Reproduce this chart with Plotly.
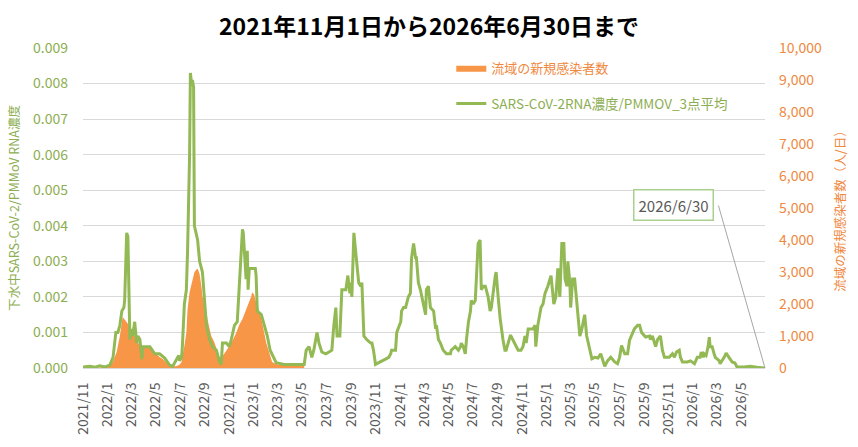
import plotly.graph_objects as go

# ---------------- data ----------------
rna_dates = [
    "2021-11-01", "2021-11-18", "2021-12-01", "2021-12-13", "2021-12-26", "2022-01-07", "2022-01-15",
    "2022-01-22", "2022-01-27", "2022-02-01", "2022-02-06", "2022-02-11", "2022-02-13", "2022-02-18",
    "2022-02-21", "2022-02-23", "2022-02-26", "2022-03-03", "2022-03-05", "2022-03-10", "2022-03-15",
    "2022-03-18", "2022-03-23", "2022-03-28", "2022-03-30", "2022-04-17", "2022-04-29", "2022-05-11",
    "2022-05-24", "2022-06-05", "2022-06-13", "2022-06-23", "2022-06-28", "2022-06-30", "2022-07-05",
    "2022-07-07", "2022-07-12", "2022-07-17", "2022-07-20", "2022-07-25", "2022-07-27", "2022-07-30",
    "2022-08-01", "2022-08-04", "2022-08-06", "2022-08-14", "2022-08-19", "2022-08-26", "2022-08-31",
    "2022-09-05", "2022-09-13", "2022-09-20", "2022-09-30", "2022-10-07", "2022-10-12", "2022-10-15",
    "2022-10-25", "2022-11-01", "2022-11-06", "2022-11-14", "2022-11-21", "2022-11-29", "2022-12-04",
    "2022-12-06", "2022-12-11", "2022-12-13", "2022-12-16", "2022-12-18", "2022-12-21", "2022-12-26",
    "2023-01-05", "2023-01-07", "2023-01-10", "2023-01-20", "2023-01-27", "2023-02-04", "2023-02-11",
    "2023-02-19", "2023-02-26", "2023-03-18", "2023-04-12", "2023-04-24", "2023-05-07", "2023-05-12",
    "2023-05-19", "2023-05-26", "2023-05-31", "2023-06-08", "2023-06-13", "2023-06-20", "2023-06-30",
    "2023-07-08", "2023-07-15", "2023-07-20", "2023-07-25", "2023-07-28", "2023-08-04", "2023-08-09",
    "2023-08-19", "2023-08-24", "2023-08-29", "2023-08-31", "2023-09-03", "2023-09-08", "2023-09-13",
    "2023-09-20", "2023-09-25", "2023-09-28", "2023-10-03", "2023-10-10", "2023-10-20", "2023-10-23",
    "2023-10-27", "2023-11-01", "2023-11-09", "2023-11-16", "2023-11-26", "2023-12-04", "2023-12-09",
    "2023-12-11", "2023-12-21", "2023-12-24", "2024-01-03", "2024-01-05", "2024-01-10", "2024-01-15",
    "2024-01-17", "2024-01-22", "2024-01-27", "2024-01-30", "2024-02-04", "2024-02-09", "2024-02-11",
    "2024-02-16", "2024-02-21", "2024-02-29", "2024-03-05", "2024-03-07", "2024-03-12", "2024-03-17",
    "2024-03-25", "2024-03-30", "2024-04-01", "2024-04-06", "2024-04-11", "2024-04-18", "2024-04-26",
    "2024-05-06", "2024-05-08", "2024-05-18", "2024-05-26", "2024-05-31", "2024-06-02", "2024-06-07",
    "2024-06-12", "2024-06-15", "2024-06-20", "2024-06-25", "2024-06-27", "2024-07-02", "2024-07-07",
    "2024-07-14", "2024-07-19", "2024-07-22", "2024-07-27", "2024-08-01", "2024-08-03", "2024-08-08",
    "2024-08-13", "2024-08-16", "2024-08-26", "2024-08-28", "2024-09-02", "2024-09-07", "2024-09-14",
    "2024-09-19", "2024-09-22", "2024-09-27", "2024-10-02", "2024-10-04", "2024-10-09", "2024-10-14",
    "2024-10-22", "2024-10-29", "2024-11-03", "2024-11-08", "2024-11-11", "2024-11-16", "2024-11-23",
    "2024-11-28", "2024-12-03", "2024-12-05", "2024-12-10", "2024-12-18", "2024-12-23", "2024-12-28",
    "2025-01-04", "2025-01-12", "2025-01-19", "2025-01-24", "2025-01-29", "2025-02-03", "2025-02-08",
    "2025-02-13", "2025-02-16", "2025-02-21", "2025-02-23", "2025-02-28", "2025-03-02", "2025-03-07",
    "2025-03-12", "2025-03-17", "2025-03-25", "2025-03-30", "2025-04-06", "2025-04-11", "2025-04-19",
    "2025-04-24", "2025-05-01", "2025-05-09", "2025-05-16", "2025-05-21", "2025-05-26", "2025-06-02",
    "2025-06-10", "2025-06-20", "2025-06-27", "2025-07-02", "2025-07-07", "2025-07-15", "2025-07-22",
    "2025-07-27", "2025-08-01", "2025-08-08", "2025-08-16", "2025-08-21", "2025-08-26", "2025-09-05",
    "2025-09-15", "2025-09-17", "2025-09-22", "2025-09-27", "2025-09-30", "2025-10-05", "2025-10-12",
    "2025-10-17", "2025-10-22", "2025-11-03", "2025-11-11", "2025-11-16", "2025-11-21", "2025-11-28",
    "2025-12-01", "2025-12-06", "2025-12-18", "2025-12-26", "2026-01-05", "2026-01-12", "2026-01-19",
    "2026-01-22", "2026-01-27", "2026-01-29", "2026-02-03", "2026-02-08", "2026-02-11", "2026-02-13",
    "2026-02-18", "2026-02-23", "2026-02-26", "2026-03-08", "2026-03-10", "2026-03-20", "2026-03-25",
    "2026-04-01", "2026-04-09", "2026-04-16", "2026-04-21", "2026-05-09", "2026-05-24", "2026-06-10",
    "2026-06-30",
]
rna_values = [
    0.00003, 0.00005, 0.00002, 0.00006, 0.00003, 0.00008, 0.0003,
    0.0010, 0.0010, 0.0012, 0.0016, 0.0017, 0.0019, 0.0038,
    0.0037, 0.0024, 0.0008, 0.0011, 0.0009, 0.0013, 0.0007,
    0.0009, 0.0008, 0.00025, 0.0006, 0.0006, 0.0004, 0.0004,
    0.00028, 0.00008, 0.00005, 0.00025, 0.00035, 0.0002, 0.0003,
    0.0006, 0.0018, 0.0022, 0.0033, 0.0060, 0.0083, 0.0080,
    0.0081, 0.0079, 0.0040, 0.0036, 0.0030, 0.0027, 0.0020,
    0.0012, 0.0008, 0.0006, 0.0005, 0.0002, 0.0001, 0.0007,
    0.0007, 0.0006, 0.0008, 0.0012, 0.0013, 0.0030, 0.0039,
    0.0038, 0.0030, 0.0025, 0.0033, 0.0022, 0.0028, 0.0028,
    0.0028, 0.0026, 0.0016, 0.0015, 0.0012, 0.0009, 0.0005,
    0.0003, 0.00015, 0.0001, 0.0001, 0.0001, 0.0001, 0.0005,
    0.0006, 0.0003, 0.0005, 0.0010, 0.0007, 0.00045, 0.0004,
    0.00045, 0.0005, 0.0012, 0.0017, 0.0009, 0.0009, 0.0022,
    0.0022, 0.0026, 0.0021, 0.0024, 0.0020, 0.0038, 0.0032,
    0.0024, 0.0023, 0.0024, 0.0009, 0.0008, 0.0007, 0.0007,
    0.0005, 0.0001, 0.00015, 0.0002, 0.00025, 0.0003, 0.0004,
    0.0005, 0.0005, 0.0010, 0.0013, 0.0016, 0.0017, 0.0017,
    0.0018, 0.0020, 0.0021, 0.0031, 0.0035, 0.0031, 0.0031,
    0.0024, 0.0022, 0.0018, 0.0015, 0.0022, 0.0023, 0.0017,
    0.0016, 0.0011, 0.0012, 0.0008, 0.0007, 0.0005, 0.0004,
    0.0004, 0.0005, 0.0006, 0.0005, 0.0006, 0.0007, 0.0006,
    0.0004, 0.0008, 0.0013, 0.0016, 0.0019, 0.0018, 0.0019,
    0.0035, 0.0036, 0.0022, 0.0023, 0.0023, 0.0022, 0.0020,
    0.0016, 0.0017, 0.0026, 0.0027, 0.0020, 0.0014, 0.0008,
    0.0005, 0.0005, 0.0007, 0.0009, 0.0009, 0.0008, 0.0007,
    0.0005, 0.0005, 0.0006, 0.0009, 0.0007, 0.0011, 0.0011,
    0.0011, 0.0012, 0.0006, 0.0012, 0.0017, 0.0018, 0.0021,
    0.0023, 0.0026, 0.0018, 0.0020, 0.0028, 0.0020, 0.0035,
    0.0035, 0.0025, 0.0023, 0.0030, 0.0024, 0.0017, 0.0025,
    0.0025, 0.0018, 0.0009, 0.0011, 0.0015, 0.0009, 0.0005,
    0.00026, 0.0003, 0.00028, 0.0004, 0.0002, 0.00005, 0.0002,
    0.0003, 0.00017, 0.00012, 0.0003, 0.00063, 0.0004, 0.0004,
    0.00078, 0.0009, 0.0011, 0.0012, 0.0012, 0.0010, 0.00087,
    0.0009, 0.0008, 0.0009, 0.0007, 0.0006, 0.0008, 0.0009,
    0.0005, 0.0003, 0.0003, 0.0004, 0.0003, 0.00045, 0.0005,
    0.0003, 0.00017, 0.00017, 0.0002, 0.00012, 0.0003, 0.0003,
    0.00045, 0.0003, 0.0004, 0.00035, 0.0006, 0.00087, 0.0006,
    0.0006, 0.0004, 0.0003, 0.0002, 0.00012, 0.0003, 0.00042,
    0.0003, 0.00017, 0.00014, 0.00003, 0.00003, 0.00005, 0.00002,
    0.0,
]

case_dates = [
    "2021-11-01", "2021-12-13", "2022-01-07", "2022-01-15", "2022-01-24", "2022-01-29", "2022-02-01",
    "2022-02-06", "2022-02-08", "2022-02-11", "2022-02-18", "2022-02-21", "2022-02-26", "2022-03-03",
    "2022-03-08", "2022-03-15", "2022-03-18", "2022-03-23", "2022-03-28", "2022-03-30", "2022-04-09",
    "2022-04-17", "2022-04-24", "2022-05-04", "2022-05-11", "2022-05-19", "2022-05-24", "2022-05-31",
    "2022-06-05", "2022-06-13", "2022-06-23", "2022-06-30", "2022-07-05", "2022-07-07", "2022-07-12",
    "2022-07-17", "2022-07-20", "2022-07-25", "2022-07-30", "2022-08-01", "2022-08-06", "2022-08-11",
    "2022-08-14", "2022-08-16", "2022-08-19", "2022-08-24", "2022-08-26", "2022-08-31", "2022-09-05",
    "2022-09-08", "2022-09-13", "2022-09-17", "2022-09-25", "2022-09-30", "2022-10-05", "2022-10-07",
    "2022-10-12", "2022-10-15", "2022-10-25", "2022-11-01", "2022-11-09", "2022-11-19", "2022-11-26",
    "2022-12-04", "2022-12-11", "2022-12-16", "2022-12-21", "2022-12-26", "2022-12-28", "2023-01-02",
    "2023-01-07", "2023-01-12", "2023-01-20", "2023-01-25", "2023-01-27", "2023-02-01", "2023-02-09",
    "2023-02-14", "2023-02-16", "2023-02-24", "2023-03-05", "2023-03-30", "2023-04-24", "2023-05-07",
]
case_values = [
    10, 15, 60, 200, 500, 800, 1000,
    1430, 1590, 1550, 1430, 1350, 1300, 1150,
    1050, 900, 800, 690, 600, 620, 690,
    640, 530, 430, 340, 280, 230, 120,
    70, 50, 60, 100, 190, 380, 690,
    1120, 1840, 2370, 2600, 2770, 2990, 3080,
    3100, 3050, 2930, 2500, 2240, 1950, 1740,
    1500, 1210, 1000, 800, 590, 400, 350,
    330, 370, 550, 690, 850, 1120, 1350,
    1530, 1750, 1930, 2100, 2240, 2370, 2300,
    2050, 1900, 1530, 1300, 1120, 800, 500,
    320, 190, 130, 100, 100, 120, 100,
]

title_text = "2021年11月1日から2026年6月30日まで"
case_name = "流域の新規感染者数"
rna_name = "SARS-CoV-2RNA濃度/PMMOV_3点平均"
left_title = "下水中SARS-CoV-2/PMMoV RNA濃度"
right_title = "流域の新規感染者数（人/日）"
end_label = "2026/6/30"

# ---------------- styling ----------------
GREEN = "#92B954"
GREEN_TXT = "#8CAE52"
ORANGE = "#F79646"
ORANGE_TXT = "#F0883E"
GRAY = "#595959"
GRID = "#D9D9D9"
FONT = "Noto Sans CJK JP"

fig = go.Figure()

fig.add_trace(go.Scatter(
    x=case_dates, y=case_values, name=case_name, yaxis="y",
    mode="lines", fill="tozeroy", fillcolor=ORANGE,
    line=dict(width=0, color=ORANGE), legend="legend",
))
fig.add_trace(go.Scatter(
    x=rna_dates, y=rna_values, name=rna_name, yaxis="y2",
    mode="lines", line=dict(width=3, color=GREEN), legend="legend2",
))

fig.update_layout(
    width=858, height=447,
    margin=dict(l=83, r=90, t=48, b=78),
    paper_bgcolor="white", plot_bgcolor="white",
    font=dict(family=FONT, size=12, color=GRAY),
    title=dict(text=f"<b>{title_text}</b>", x=0.5, xanchor="center", y=0.94, yanchor="middle",
               font=dict(size=23, color="#000000", family=FONT)),
    xaxis=dict(
        type="date", range=[rna_dates[0], rna_dates[-1]],
        tick0="2021-11-01", dtick="M2", tickformat="%Y/%-m", tickangle=-90,
        tickfont=dict(size=14, color=GRAY), showgrid=False,
        showline=True, linecolor=GRID, linewidth=1, ticks="", ticklabelstandoff=8,
    ),
    yaxis=dict(
        side="right", range=[0, 10000], dtick=1000, tickformat=",d",
        showgrid=False, zeroline=False, tickfont=dict(size=14, color=ORANGE_TXT),
        ticklabelstandoff=13,
        title=dict(text=right_title, font=dict(size=12.5, color=ORANGE_TXT), standoff=15),
    ),
    yaxis2=dict(
        overlaying="y", side="left", range=[0, 0.009], dtick=0.001, tickformat=".3f",
        showgrid=True, gridcolor=GRID, gridwidth=1, zeroline=False,
        tickfont=dict(size=14, color=GREEN_TXT), ticklabelstandoff=14,
        title=dict(text=left_title, font=dict(size=12.5, color=GREEN_TXT), standoff=10),
    ),
    showlegend=True,
    legend=dict(x=0.54, y=0.938, xanchor="left", yanchor="middle", bgcolor="rgba(0,0,0,0)",
                font=dict(size=13, color=ORANGE_TXT, family=FONT)),
    legend2=dict(x=0.54, y=0.826, xanchor="left", yanchor="middle", bgcolor="rgba(0,0,0,0)",
                 font=dict(size=13.5, color=GREEN_TXT, family=FONT)),
)

# callout for the last date
fig.add_annotation(
    x=rna_dates[-1], y=rna_values[-1], xref="x", yref="y2",
    text=end_label, showarrow=False, xshift=-92, yshift=163,
    xanchor="center", yanchor="middle",
    font=dict(size=15, color=GRAY, family=FONT),
    bordercolor="#A9D18E", borderwidth=1.5, borderpad=4, bgcolor="white",
)
fig.add_annotation(
    x=rna_dates[-1], y=rna_values[-1], xref="x", yref="y2",
    text="", showarrow=True, ax=-47, ay=-164, arrowhead=0, arrowwidth=1, arrowcolor="#A6A6A6",
)

fig.write_html("out.html")
